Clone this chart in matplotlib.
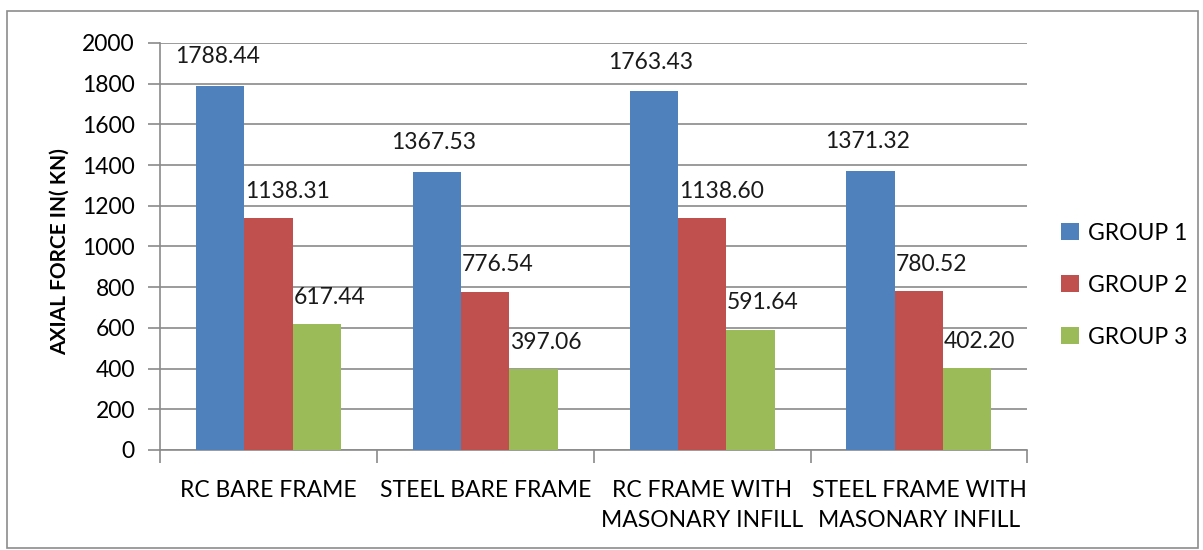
import numpy as np
import matplotlib
matplotlib.use('Agg')
import matplotlib.pyplot as plt
from matplotlib.patches import Rectangle

plt.rcParams['font.family'] = ['Lato', 'DejaVu Sans']

# ── Data ─────────────────────────────────────────────────────────────
categories = ["RC BARE FRAME", "STEEL BARE FRAME",
              "RC FRAME WITH\nMASONARY INFILL", "STEEL FRAME WITH\nMASONARY INFILL"]
group1 = [1788.44, 1367.53, 1763.43, 1371.32]
group2 = [1138.31, 776.54, 1138.60, 780.52]
group3 = [617.44, 397.06, 591.64, 402.20]
series_names = ["GROUP 1", "GROUP 2", "GROUP 3"]
colors = ["#4F81BD", "#C0504D", "#9BBB59"]

fs = 16.5

fig = plt.figure(figsize=(12.03, 5.5), dpi=100)
ax = fig.add_axes([0.133, 0.182, 0.721, 0.740])

# outer chart frame
fig.patches.append(Rectangle((0.006, 0.004), 0.99, 0.976, transform=fig.transFigure,
                             fill=False, edgecolor="#8c8c8c", linewidth=1.2))

x = np.arange(len(categories))
w = 0.223
grid_col = "#8a8a8a"

for i, (vals, name, col) in enumerate(zip([group1, group2, group3], series_names, colors)):
    pos = x + (i - 1) * w
    bars = ax.bar(pos, vals, width=w, color=col, label=name, zorder=3)
    for b, v in zip(bars, vals):
        if i == 0:
            ax.annotate(f"{v:.2f}", (b.get_x() + b.get_width() / 2, v),
                        xytext=(-3, 29), textcoords="offset pixels",
                        ha="center", va="center", fontsize=fs, color="#1a1a1a", zorder=4)
        else:
            ax.annotate(f"{v:.2f}", (b.get_x(), v),
                        xytext=(1, 27), textcoords="offset pixels",
                        ha="left", va="center", fontsize=fs, color="#1a1a1a", zorder=4)

ax.set_xlim(-0.5, 3.5)
ax.set_ylim(0, 2000)
ax.set_yticks(np.arange(0, 2001, 200))
ax.yaxis.grid(True, color=grid_col, linewidth=1.2, zorder=0)
ax.set_xticks(x)
ax.set_xticklabels(categories, fontsize=fs, linespacing=1.5)
ax.set_xticks(np.arange(-0.5, 4.0, 1.0), minor=True)
ax.tick_params(axis="x", which="major", length=0, pad=22)
ax.tick_params(axis="x", which="minor", length=9, color=grid_col, width=1.2)
ax.tick_params(axis="y", length=9, color=grid_col, width=1.2, labelsize=fs, pad=9)

for s in ["top", "right"]:
    ax.spines[s].set_visible(False)
for s in ["left", "bottom"]:
    ax.spines[s].set_color(grid_col)
    ax.spines[s].set_linewidth(1.2)

# y-axis title placed in figure coords
fig.text(0.05, 0.542, "AXIAL FORCE IN( KN)", rotation=90, ha="center", va="center",
         fontsize=15, fontweight="bold")

ax.legend(loc="center left", bbox_to_anchor=(1.026, 0.405), frameon=False,
          fontsize=fs, handlelength=0.75, handleheight=0.75, handletextpad=0.4,
          labelspacing=1.35, borderpad=0)

plt.savefig("out.png", dpi=100)
